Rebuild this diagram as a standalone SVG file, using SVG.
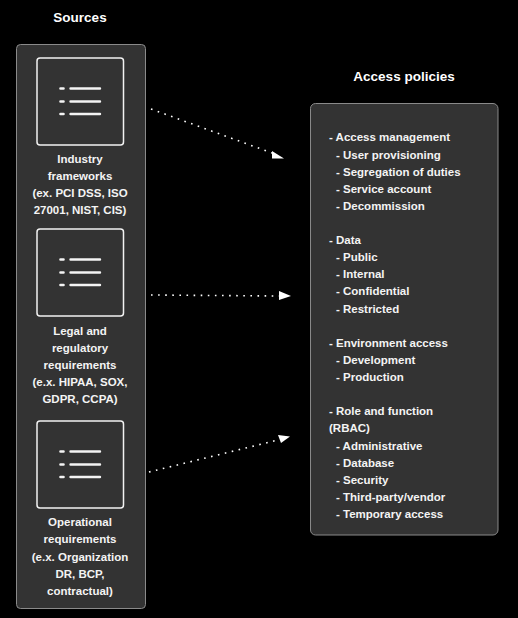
<svg xmlns="http://www.w3.org/2000/svg" width="518" height="618" viewBox="0 0 518 618">
<style>
text{font-family:"Liberation Sans",Arial,sans-serif;font-weight:700;font-size:11.5px;fill:#f4f4f4}
.m{text-anchor:middle}
.h{font-size:13.5px;fill:#fff}
.panel{fill:#333;stroke:#8a8a8a;stroke-width:1}
.box{fill:#333;stroke:#f2f2f2;stroke-width:1.5}
.ic{stroke:#f4f4f4;stroke-width:2.4;stroke-linecap:round;fill:none}
.dot{stroke:#f4f4f4;stroke-width:2.6;stroke-linecap:round;fill:none}
.c{stroke:#fff;stroke-width:1.6;stroke-dasharray:1.6 5.5;fill:none}
.a{fill:#fff}
</style>
<defs>
<g id="icon">
<rect class="box" x="37" y="0" width="86.500" height="87" rx="3"/>
<path class="dot" d="M60.500 30.500h3M60.500 43.500h3M60.500 56h3"/>
<path class="ic" d="M70.500 30.500h29.500M70.500 43.500h29.500M70.500 56h29.500"/>
</g>
</defs>
<rect width="518" height="618" fill="#000"/>
<g id="sources">
<rect class="panel" x="16.500" y="44.500" width="129" height="564" rx="4"/>
<text class="h m" x="80" y="22">Sources</text>
</g>
<g id="node-industry">
<use href="#icon" y="58"/>
<text class="m" x="80" y="163">Industry</text>
<text class="m" x="80" y="180">frameworks</text>
<text class="m" x="80" y="197">(ex. PCI DSS, ISO</text>
<text class="m" x="80" y="214">27001, NIST, CIS)</text>
</g>
<g id="node-legal">
<use href="#icon" y="229"/>
<text class="m" x="80" y="335">Legal and</text>
<text class="m" x="80" y="352">regulatory</text>
<text class="m" x="80" y="369">requirements</text>
<text class="m" x="80" y="386">(e.x. HIPAA, SOX,</text>
<text class="m" x="80" y="403">GDPR, CCPA)</text>
</g>
<g id="node-operational">
<use href="#icon" y="421"/>
<text class="m" x="80" y="526">Operational</text>
<text class="m" x="80" y="543">requirements</text>
<text class="m" x="80" y="561">(e.x. Organization</text>
<text class="m" x="80" y="578">DR, BCP,</text>
<text class="m" x="80" y="595">contractual)</text>
</g>
<g id="connectors">
<path class="c" d="M151 109L272 153"/>
<path class="a" d="M272 151L284 158.500L272 158.500Z"/>
<path class="c" d="M151 295L279 296"/>
<path class="a" d="M279 291L291 296L279 300Z"/>
<path class="c" d="M149 472L278 440"/>
<path class="a" d="M278 435L290 436.500L281 443Z"/>
</g>
<g id="node-policies">
<text class="h m" x="404" y="81">Access policies</text>
<rect class="panel" x="310.500" y="103.500" width="187.500" height="431.500" rx="5"/>
<text x="329" y="141">- Access management</text>
<text x="336" y="159">- User provisioning</text>
<text x="336" y="176">- Segregation of duties</text>
<text x="336" y="193">- Service account</text>
<text x="336" y="210">- Decommission</text>
<text x="329" y="244">- Data</text>
<text x="336" y="261">- Public</text>
<text x="336" y="278">- Internal</text>
<text x="336" y="295">- Confidential</text>
<text x="336" y="313">- Restricted</text>
<text x="329" y="347">- Environment access</text>
<text x="336" y="364">- Development</text>
<text x="336" y="381">- Production</text>
<text x="329" y="415">- Role and function</text>
<text x="329" y="432">(RBAC)</text>
<text x="336" y="450">- Administrative</text>
<text x="336" y="467">- Database</text>
<text x="336" y="484">- Security</text>
<text x="336" y="501">- Third-party/vendor</text>
<text x="336" y="518">- Temporary access</text>
</g>
</svg>
